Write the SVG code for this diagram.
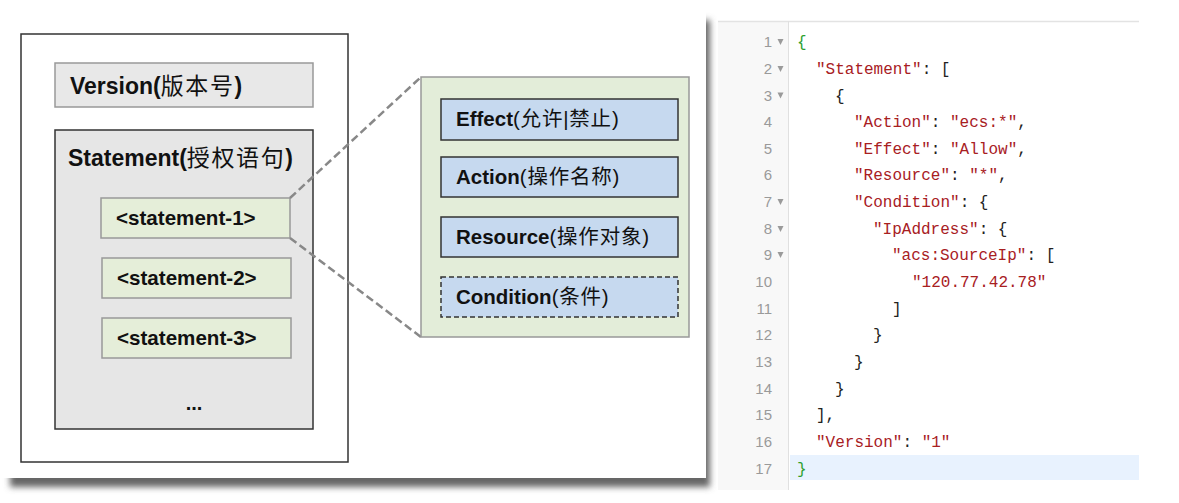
<svg xmlns="http://www.w3.org/2000/svg" width="1179" height="503" viewBox="0 0 1179 503">
<defs>
<filter id="sh" x="-5%" y="-5%" width="110%" height="110%"><feGaussianBlur stdDeviation="3"/></filter>
<style>
.lbl{font-family:"Liberation Sans","Noto Sans CJK SC",Arial,sans-serif;fill:#111}
.b{font-weight:bold}
.cn{font-weight:normal}
.sp{letter-spacing:1.6px}
.sp1{letter-spacing:0.8px}
.gbox{fill:#e5eed9;stroke:#999;stroke-width:1.5}
.bbox{fill:#c6d9ef;stroke:#333;stroke-width:1.5}
.conn{stroke:#888;stroke-width:2.5;stroke-dasharray:8 4;fill:none}
.code{font-family:"Liberation Mono","Courier New",monospace;font-size:16px;fill:#222}
.s{fill:#a8201f}
.g{fill:#2ea02e}
.ln{font-family:"Liberation Sans",Arial,sans-serif;font-size:15px;fill:#9a9a9a;text-anchor:end}
.fold{fill:#9a9a9a}
</style>
</defs>
<rect width="1179" height="503" fill="#fff"/>
<!-- left screenshot shadow -->
<rect x="10" y="20" width="700" height="467" fill="#666" filter="url(#sh)"/>
<rect x="0" y="0" width="706" height="478" fill="#fff"/>
<!-- code panel -->
<g id="code-panel">
<rect x="718" y="21" width="70" height="469" fill="#f8f8f8"/>
<line x1="718" y1="21.5" x2="1139" y2="21.5" stroke="#e3e3e3" stroke-width="1.5"/>
<line x1="788.5" y1="21" x2="788.5" y2="490" stroke="#e0e0e0" stroke-width="1"/>
<rect x="790" y="455" width="349" height="25" fill="#e8f2fe"/>
<g class="ln">
<text x="772" y="47">1</text><text x="772" y="74">2</text><text x="772" y="101">3</text><text x="772" y="127">4</text>
<text x="772" y="154">5</text><text x="772" y="180">6</text><text x="772" y="207">7</text><text x="772" y="234">8</text>
<text x="772" y="260">9</text><text x="772" y="287">10</text><text x="772" y="314">11</text><text x="772" y="340">12</text>
<text x="772" y="367">13</text><text x="772" y="394">14</text><text x="772" y="420">15</text><text x="772" y="447">16</text>
<text x="772" y="474">17</text>
</g>
<g class="fold">
<polygon points="777.5,39 783.5,39 780.5,45"/>
<polygon points="777.5,66 783.5,66 780.5,72"/>
<polygon points="777.5,92.5 783.5,92.5 780.5,98.5"/>
<polygon points="777.5,199 783.5,199 780.5,205"/>
<polygon points="777.5,226 783.5,226 780.5,232"/>
<polygon points="777.5,252 783.5,252 780.5,258"/>
</g>
<g class="code">
<text x="797" y="47" class="g">{</text>
<text x="816" y="74"><tspan class="s">"Statement"</tspan>: [</text>
<text x="835" y="101">{</text>
<text x="854" y="127"><tspan class="s">"Action"</tspan>: <tspan class="s">"ecs:*"</tspan>,</text>
<text x="854" y="154"><tspan class="s">"Effect"</tspan>: <tspan class="s">"Allow"</tspan>,</text>
<text x="854" y="180"><tspan class="s">"Resource"</tspan>: <tspan class="s">"*"</tspan>,</text>
<text x="854" y="207"><tspan class="s">"Condition"</tspan>: {</text>
<text x="873" y="234"><tspan class="s">"IpAddress"</tspan>: {</text>
<text x="892" y="260"><tspan class="s">"acs:SourceIp"</tspan>: [</text>
<text x="912" y="287" class="s">"120.77.42.78"</text>
<text x="892" y="314">]</text>
<text x="873" y="340">}</text>
<text x="854" y="367">}</text>
<text x="835" y="394">}</text>
<text x="816" y="420">],</text>
<text x="816" y="447"><tspan class="s">"Version"</tspan>: <tspan class="s">"1"</tspan></text>
<text x="797" y="474" class="g">}</text>
</g>
</g>
<!-- policy structure -->
<g id="policy">
<rect x="21" y="34" width="327" height="428" fill="#fff" stroke="#333" stroke-width="1.5"/>
</g>
<g id="version">
<rect x="55" y="63" width="258" height="44" fill="#e8e8e8" stroke="#999" stroke-width="1.5"/>
<text x="70" y="94" class="lbl b" font-size="23">Version(<tspan class="cn sp">版本号</tspan>)</text>
</g>
<g id="statement">
<rect x="55" y="130" width="258" height="299" fill="#e6e6e6" stroke="#333" stroke-width="1.5"/>
<text x="68" y="166" class="lbl b" font-size="23">Statement(<tspan class="cn sp">授权语句</tspan>)</text>
<text x="194" y="410" class="lbl b" font-size="20" text-anchor="middle">...</text>
</g>
<g id="statement-1">
<rect x="101" y="198" width="189" height="40" class="gbox"/>
<text x="116" y="225" class="lbl b" font-size="20.6">&lt;statement-1&gt;</text>
</g>
<g id="statement-2">
<rect x="102" y="258" width="189" height="40" class="gbox"/>
<text x="117" y="285" class="lbl b" font-size="20.6">&lt;statement-2&gt;</text>
</g>
<g id="statement-3">
<rect x="102" y="318" width="189" height="40" class="gbox"/>
<text x="117" y="345" class="lbl b" font-size="20.6">&lt;statement-3&gt;</text>
</g>
<g id="connectors">
<line x1="290" y1="198" x2="421" y2="77" class="conn"/>
<line x1="290" y1="238" x2="421" y2="337" class="conn"/>
</g>
<g id="statement-detail">
<rect x="421" y="77" width="268" height="260" fill="#e3edd9" stroke="#999" stroke-width="1.5"/>
</g>
<g id="effect">
<rect x="441" y="99" width="237" height="41" class="bbox"/>
<text x="456" y="126" class="lbl b" font-size="20.5">Effect<tspan class="cn sp1">(允许|禁止)</tspan></text>
</g>
<g id="action">
<rect x="441" y="157" width="237" height="40" class="bbox"/>
<text x="456" y="184" class="lbl b" font-size="20.5">Action<tspan class="cn sp1">(操作名称)</tspan></text>
</g>
<g id="resource">
<rect x="441" y="217" width="237" height="40" class="bbox"/>
<text x="456" y="244" class="lbl b" font-size="20.5">Resource<tspan class="cn sp1">(操作对象)</tspan></text>
</g>
<g id="condition">
<rect x="441" y="277" width="237" height="40" class="bbox" stroke-dasharray="5 3"/>
<text x="456" y="304" class="lbl b" font-size="20.5">Condition<tspan class="cn sp1">(条件)</tspan></text>
</g>
</svg>
